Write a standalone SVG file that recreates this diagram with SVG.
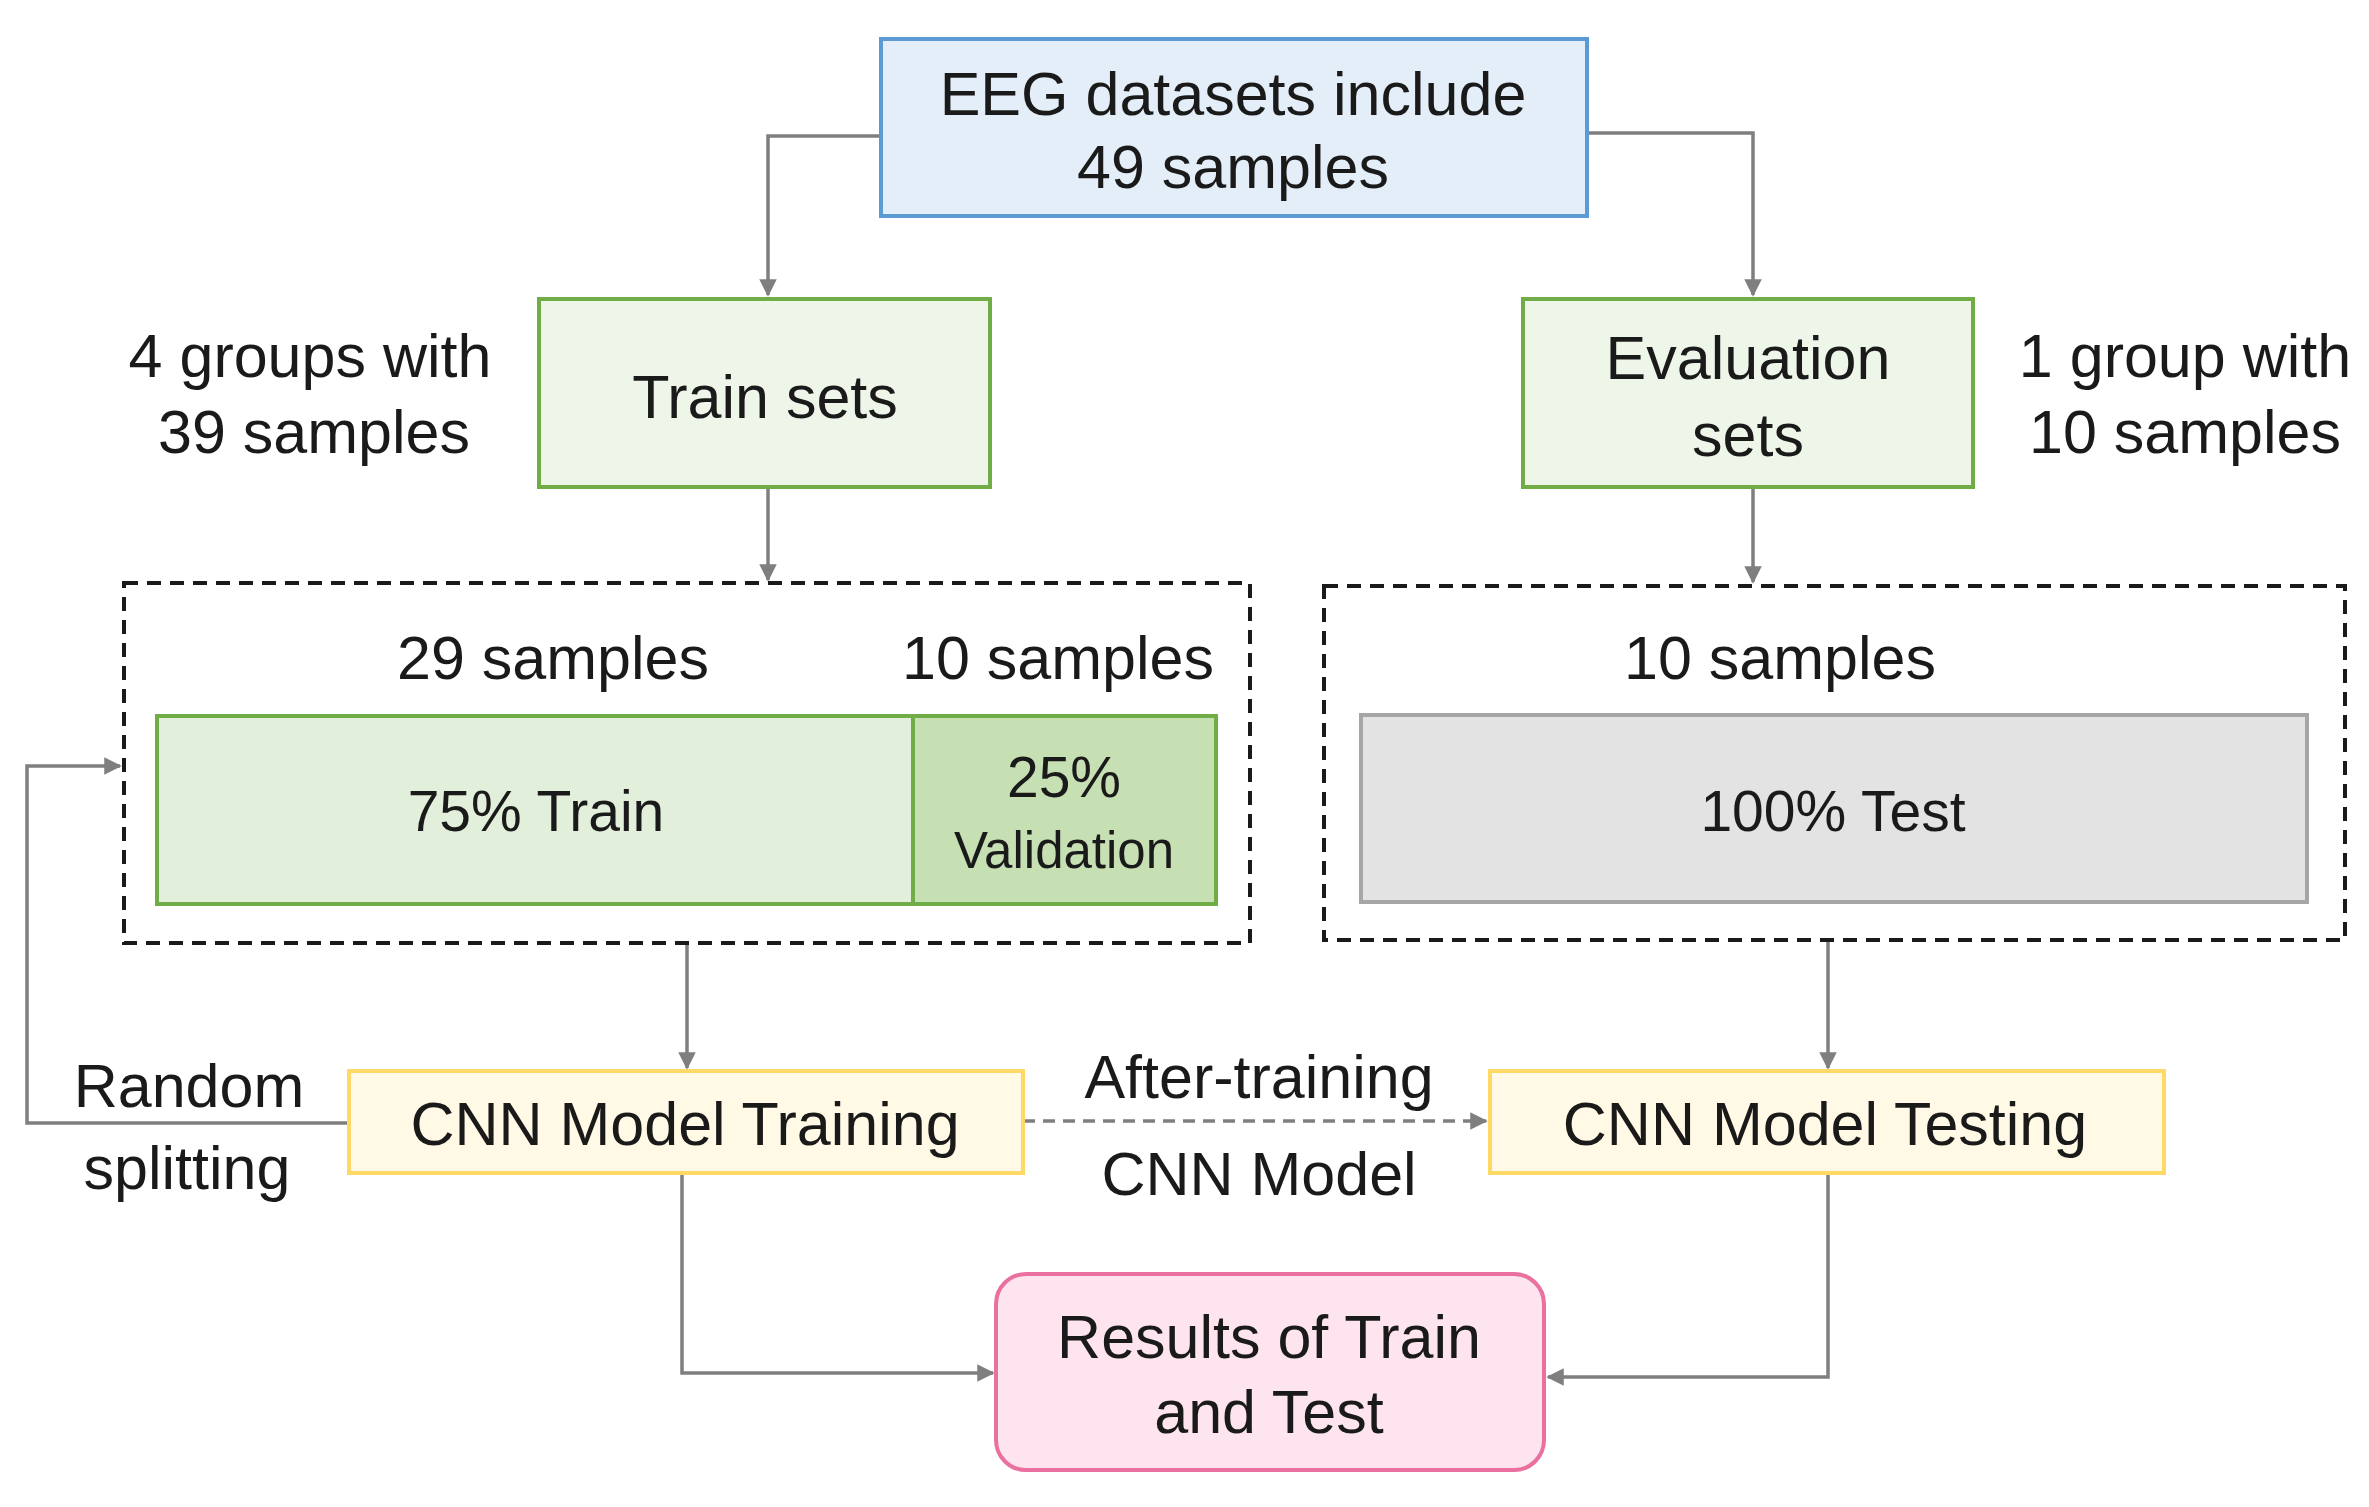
<svg xmlns="http://www.w3.org/2000/svg" width="2369" height="1507" viewBox="0 0 2369 1507">
<style>
text{font-family:"Liberation Sans",Arial,sans-serif;fill:#1a1a1a;text-anchor:middle}
.t{font-size:61px}
.s{font-size:57px}
.c{fill:none;stroke:#7f7f7f;stroke-width:3.5}
.d{fill:none;stroke:#1a1a1a;stroke-width:4;stroke-dasharray:14 9}
</style>
<defs>
<marker id="a" viewBox="0 0 10 10" refX="9" refY="5" markerWidth="5" markerHeight="5" orient="auto"><path d="M0,0L10,5L0,10z" fill="#7f7f7f"/></marker>
</defs>
<rect width="2369" height="1507" fill="#fff"/>
<g id="connectors">
<path class="c" d="M881,136H768V295" marker-end="url(#a)"/>
<path class="c" d="M1587,133H1753V295" marker-end="url(#a)"/>
<path class="c" d="M768,487V580" marker-end="url(#a)"/>
<path class="c" d="M1753,487V582" marker-end="url(#a)"/>
<path class="c" d="M687,943V1068" marker-end="url(#a)"/>
<path class="c" d="M1828,940V1068" marker-end="url(#a)"/>
<path class="c" d="M349,1123H27V766H120" marker-end="url(#a)"/>
<path class="c" d="M1023,1121H1486" stroke-dasharray="12 8" marker-end="url(#a)"/>
<path class="c" d="M682,1173V1373H993" marker-end="url(#a)"/>
<path class="c" d="M1828,1173V1377H1548" marker-end="url(#a)"/>
</g>
<g id="eeg"><rect x="881" y="39" width="706" height="177" fill="#e3eef9" stroke="#5b9bd5" stroke-width="4"/>
<text class="t" x="1233" y="115">EEG datasets include</text><text class="t" x="1233" y="188">49 samples</text></g>
<g id="train-sets"><rect x="539" y="299" width="451" height="188" fill="#eef5e9" stroke="#70ad47" stroke-width="4"/>
<text class="t" x="765" y="418">Train sets</text></g>
<g id="eval-sets"><rect x="1523" y="299" width="450" height="188" fill="#eef5e9" stroke="#70ad47" stroke-width="4"/>
<text class="t" x="1748" y="379">Evaluation</text><text class="t" x="1748" y="456">sets</text></g>
<g id="lbl-left"><text class="t" x="310" y="377">4 groups with</text><text class="t" x="314" y="453">39 samples</text></g>
<g id="lbl-right"><text class="t" x="2185" y="377">1 group with</text><text class="t" x="2185" y="453">10 samples</text></g>
<g id="split-left"><rect class="d" x="124" y="583" width="1126" height="360"/>
<text class="t" x="553" y="679">29 samples</text><text class="t" x="1058" y="679">10 samples</text>
<rect x="157" y="716" width="756" height="188" fill="#e2efda" stroke="#70ad47" stroke-width="4"/>
<rect x="913" y="716" width="303" height="188" fill="#c6e0b4" stroke="#70ad47" stroke-width="4"/>
<text class="s" x="536" y="831">75% Train</text>
<text class="s" x="1064" y="797">25%</text><text x="1064" y="868" style="font-size:51px">Validation</text></g>
<g id="split-right"><rect class="d" x="1324" y="586" width="1021" height="354"/>
<text class="t" x="1780" y="679">10 samples</text>
<rect x="1361" y="715" width="946" height="187" fill="#e3e3e3" stroke="#a6a6a6" stroke-width="4"/>
<text class="s" x="1833" y="831">100% Test</text></g>
<g id="cnn-train"><rect x="349" y="1071" width="674" height="102" fill="#fff9e5" stroke="#ffd966" stroke-width="4"/>
<text class="t" x="685" y="1145">CNN Model Training</text></g>
<g id="cnn-test"><rect x="1490" y="1071" width="674" height="102" fill="#fff9e5" stroke="#ffd966" stroke-width="4"/>
<text class="t" x="1825" y="1145">CNN Model Testing</text></g>
<g id="lbl-random"><text class="t" x="189" y="1107">Random</text><text class="t" x="187" y="1189">splitting</text></g>
<g id="lbl-after"><text class="t" x="1259" y="1098">After-training</text><text class="t" x="1259" y="1195">CNN Model</text></g>
<g id="results"><rect x="996" y="1274" width="548" height="196" rx="30" fill="#fde4ee" stroke="#e9709f" stroke-width="4"/>
<text class="t" x="1269" y="1358">Results of Train</text><text class="t" x="1269" y="1433">and Test</text></g>
</svg>
